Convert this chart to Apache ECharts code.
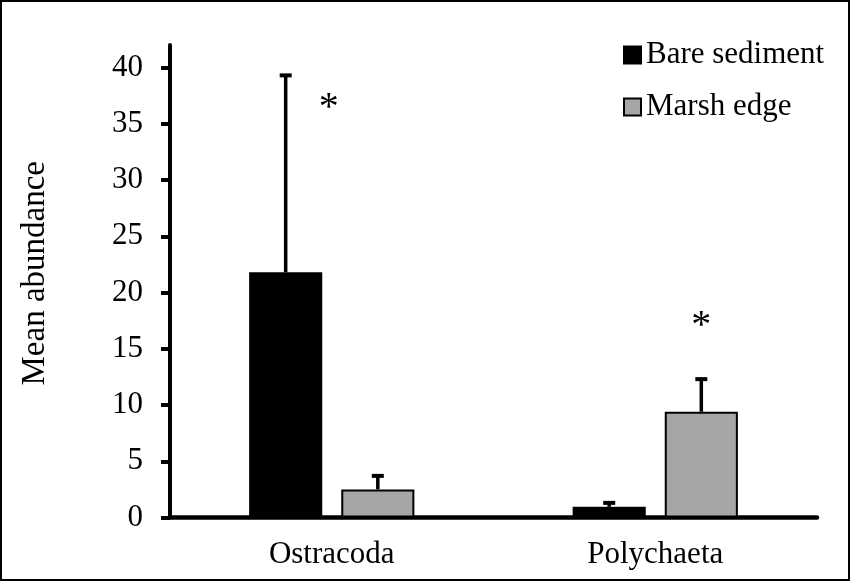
<!DOCTYPE html>
<html>
<head>
<meta charset="utf-8">
<script src="https://cdn.jsdelivr.net/npm/echarts@6/dist/echarts.min.js"></script>
<style>
html,body{margin:0;padding:0;background:#fff;}
#chart{width:851px;height:582px;}
</style>
</head>
<body>
<div id="chart"></div>
<script>
// ---- data ----
const categories = ['Ostracoda', 'Polychaeta'];
const seriesNames = ['Bare sediment', 'Marsh edge'];
const bareSediment = [21.8, 0.95];
const bareSedimentSE = [17.5, 0.35];
const marshEdge = [2.5, 9.4];
const marshEdgeSE = [1.2, 2.9];
const yTickValues = [0, 5, 10, 15, 20, 25, 30, 35, 40];
const sigCategory = ['Ostracoda', 'Polychaeta'];
const sigSeries = ['', 'Marsh edge'];   // '' = centred on the category
const sigValue = [36.9, 17.5];
const yAxisTitle = 'Mean abundance';

// ---- style ----
const FONT = "'Liberation Serif','Times New Roman',serif";
const BAR_W = 0.226;   // fraction of category band
const BAR_GAP = 0.26;  // fraction of bar width
const colors = ['#000000', '#a6a6a6'];

const chart = echarts.init(document.getElementById('chart'), null, {renderer: 'canvas'});

const errData = [];
[bareSediment, marshEdge].forEach((vals, s) => {
  const se = s === 0 ? bareSedimentSE : marshEdgeSE;
  vals.forEach((v, i) => errData.push([i, s, v, se[i]]));
});
const sigData = sigValue.map((v, i) => [categories.indexOf(sigCategory[i]), seriesNames.indexOf(sigSeries[i]), v]);

function barOffset(api, s) {
  const band = api.size([1, 0])[0];
  const bw = band * BAR_W;
  const gap = bw * BAR_GAP;
  if (s < 0) return 0;
  return (s === 0 ? -1 : 1) * (bw + gap) / 2;
}

const option = {
  animation: false,
  backgroundColor: '#fff',
  textStyle: {fontFamily: FONT},
  grid: {left: 170, right: 34, top: 45, bottom: 64.5},
  legend: {
    orient: 'vertical',
    left: 618,
    top: 33,
    itemWidth: 17,
    itemHeight: 17,
    itemGap: 18,
    icon: 'rect',
    textStyle: {fontFamily: FONT, fontSize: 31, color: '#000', lineHeight: 34},
    data: seriesNames
  },
  xAxis: {
    type: 'category',
    data: categories,
    axisLine: {lineStyle: {color: '#000', width: 4.5}},
    axisTick: {show: false},
    axisLabel: {fontFamily: FONT, fontSize: 31, color: '#000', margin: 22}
  },
  yAxis: {
    type: 'value',
    min: 0,
    max: 42,
    interval: 5,
    name: yAxisTitle,
    nameLocation: 'middle',
    nameRotate: 90,
    nameGap: 118,
    nameTextStyle: {fontFamily: FONT, fontSize: 33, color: '#000', padding: [0, 0, 0, 16]},
    splitLine: {show: false},
    axisLine: {show: true, lineStyle: {color: '#000', width: 4}},
    axisTick: {show: true, length: 9, lineStyle: {color: '#000', width: 4}, customValues: yTickValues},
    axisLabel: {fontFamily: FONT, fontSize: 31, color: '#000', margin: 27, customValues: yTickValues}
  },
  series: [
    {
      name: seriesNames[0], type: 'bar', data: bareSediment,
      barWidth: (BAR_W * 100) + '%', barGap: (BAR_GAP * 100) + '%',
      itemStyle: {color: colors[0], borderColor: '#000', borderWidth: 2}
    },
    {
      name: seriesNames[1], type: 'bar', data: marshEdge,
      barWidth: (BAR_W * 100) + '%', barGap: (BAR_GAP * 100) + '%',
      itemStyle: {color: colors[1], borderColor: '#000', borderWidth: 2}
    },
    {
      type: 'custom', name: 'err', data: errData, z: 1,
      renderItem: function (params, api) {
        const cat = api.value(0), s = api.value(1), v = api.value(2), se = api.value(3);
        const base = api.coord([cat, v]);
        const top = api.coord([cat, v + se]);
        const x = base[0] + barOffset(api, s);
        return {
          type: 'group',
          children: [
            {type: 'line', shape: {x1: x, y1: base[1], x2: x, y2: top[1]}, style: {stroke: '#000', lineWidth: 3.5}},
            {type: 'line', shape: {x1: x - 6, y1: top[1], x2: x + 6, y2: top[1]}, style: {stroke: '#000', lineWidth: 4}}
          ]
        };
      }
    },
    {
      type: 'custom', name: 'sig', data: sigData,
      renderItem: function (params, api) {
        const cat = api.value(0), s = api.value(1), v = api.value(2);
        const p = api.coord([cat, v]);
        const x = p[0] + barOffset(api, s) - (s < 0 ? 3 : 0);
        return {
          type: 'text',
          style: {x: x, y: p[1] + 6, text: '*', font: '40px ' + FONT, fill: '#000', align: 'center', verticalAlign: 'middle'}
        };
      }
    }
  ],
  graphic: [{
    type: 'rect', silent: true, z: 100,
    shape: {x: 1, y: 1, width: 848, height: 579},
    style: {fill: 'none', stroke: '#000', lineWidth: 2}
  }]
};
chart.setOption(option);
</script>
</body>
</html>
